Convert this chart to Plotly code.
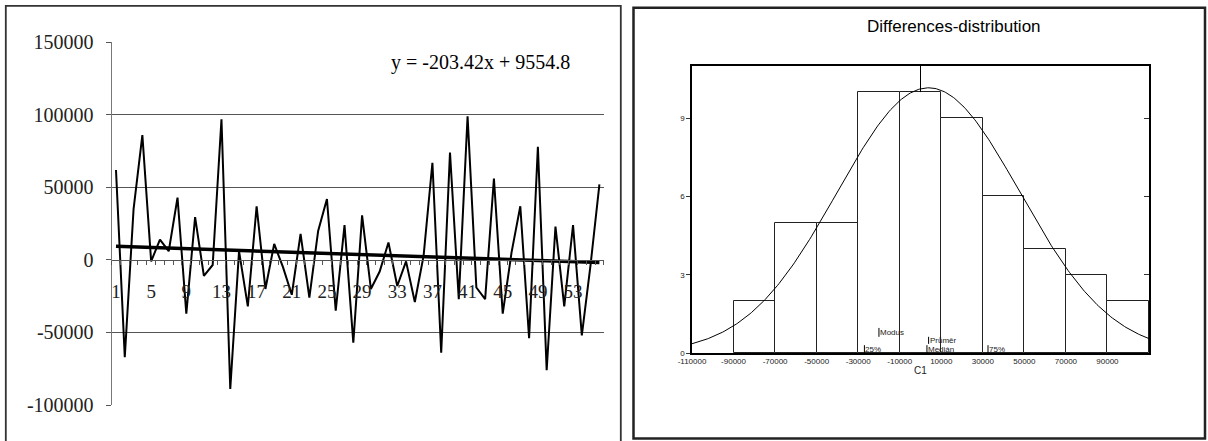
import numpy as np
import plotly.graph_objects as go

# ---------------- data ----------------
obs_index = list(range(1, 57))
differences = [62000, -67000, 35000, 86000, -1000, 14000, 6000, 43000, -37000, 29500,
               -11000, -3500, 97000, -89000, 6000, -32000, 37000, -20000, 11000, -5000,
               -24000, 18000, -26000, 20000, 42000, -35000, 24000, -57000, 30700, -20000,
               -8000, 12000, -18000, -1000, -29000, 3000, 67000, -64000, 74000, -27000,
               99000, -19000, -27000, 56000, -37000, 5000, 37000, -54000, 78000, -76000,
               23000, -32000, 24000, -52000, -3000, 52000]

trend_slope = -203.42
trend_intercept = 9554.8
equation_text = "y = -203.42x + 9554.8"

left_x_ticks = [1, 5, 9, 13, 17, 21, 25, 29, 33, 37, 41, 45, 49, 53]
left_y_ticks = [-100000, -50000, 0, 50000, 100000, 150000]
left_y_labels = ["-100000", "-50000", "0", "50000", "100000", "150000"]
left_y_dark_grid = [-50000, 50000, 100000]
left_y_faint_grid = [-100000, 150000]

hist_bin_start = -110000
hist_bin_end = 110000
hist_bin_size = 20000
hist_x_ticks = [-110000, -90000, -70000, -50000, -30000, -10000, 10000, 30000, 50000, 70000, 90000]
hist_x_labels = ["-110000", "-90000", "-70000", "-50000", "-30000", "-10000",
                 "10000", "30000", "50000", "70000", "90000"]
hist_y_ticks = [0, 3, 6, 9]
hist_title = "Differences-distribution"
hist_x_title = "C1"

ref_line_x = 0
stat_labels = ["Modus", "25%", "Průměr", "Medián", "75%"]
stat_x = [-20000, -27000, 3900, 3100, 32500]
stat_y_low = [0.62, 0.0, 0.35, 0.0, 0.0]
stat_y_high = [0.96, 0.3, 0.62, 0.3, 0.3]

# ---------------- layout helpers ----------------
W, H = 1208, 441
def px(x):
    return x / W
def py(y):
    return 1 - y / H

lx_dom = [px(111.6), px(603.8)]
ly_dom = [py(405.0), py(42.3)]
ly_range = [-100000, 150000]
zero_pos = ly_dom[0] + (0 - ly_range[0]) / (ly_range[1] - ly_range[0]) * (ly_dom[1] - ly_dom[0])

rx_dom = [px(692), px(1149)]
ry_dom = [py(353), py(66)]

serif = "Liberation Serif, Times New Roman, serif"
sans = "Liberation Sans, Arial, sans-serif"

fig = go.Figure()

# ---------------- left chart ----------------
fig.add_trace(go.Scatter(x=obs_index, y=differences, mode="lines",
                         line=dict(color="black", width=2), xaxis="x", yaxis="y",
                         hoverinfo="skip"))
trend_x = [obs_index[0], obs_index[-1]]
trend_y = [trend_slope * v + trend_intercept for v in trend_x]
fig.add_trace(go.Scatter(x=trend_x, y=trend_y, mode="lines",
                         line=dict(color="black", width=3.5), xaxis="x", yaxis="y",
                         hoverinfo="skip"))
# empty trace so the overlaying faint-grid axis is drawn
fig.add_trace(go.Scatter(x=[None], y=[None], xaxis="x", yaxis="y3", hoverinfo="skip"))

# ---------------- right chart ----------------
fig.add_trace(go.Histogram(x=differences,
                           xbins=dict(start=hist_bin_start, end=hist_bin_end, size=hist_bin_size),
                           marker=dict(color="white", line=dict(color="#222", width=1)),
                           xaxis="x2", yaxis="y2", hoverinfo="skip"))

arr = np.array(differences, dtype=float)
fit_mean = arr.mean()
fit_sd = arr.std(ddof=1)
cx = np.linspace(hist_bin_start, hist_bin_end, 300)
cy = len(arr) * hist_bin_size / (fit_sd * np.sqrt(2 * np.pi)) * np.exp(-0.5 * ((cx - fit_mean) / fit_sd) ** 2)
fig.add_trace(go.Scatter(x=cx, y=cy, mode="lines", line=dict(color="black", width=1),
                         xaxis="x2", yaxis="y2", hoverinfo="skip"))

fig.add_trace(go.Scatter(x=[ref_line_x, ref_line_x], y=[10, 11], mode="lines",
                         line=dict(color="black", width=1), xaxis="x2", yaxis="y2",
                         hoverinfo="skip", cliponaxis=False))

sx, sy = [], []
for xv, lo, hi in zip(stat_x, stat_y_low, stat_y_high):
    sx += [xv, xv, None]
    sy += [lo, hi, None]
fig.add_trace(go.Scatter(x=sx, y=sy, mode="lines", line=dict(color="black", width=1),
                         xaxis="x2", yaxis="y2", hoverinfo="skip"))
# empty trace so the right-side (mirrored, inside) tick axis is drawn
fig.add_trace(go.Scatter(x=[None], y=[None], xaxis="x2", yaxis="y4", hoverinfo="skip"))

annotations = []
for lab, xv, lo, hi in zip(stat_labels, stat_x, stat_y_low, stat_y_high):
    annotations.append(dict(x=xv, y=(lo + hi) / 2, xref="x2", yref="y2", text=lab,
                            showarrow=False, xanchor="left", yanchor="middle", xshift=-1,
                            font=dict(family=sans, size=8, color="#222")))

annotations.append(dict(x=px(953.5), y=py(26), xref="paper", yref="paper", text=hist_title,
                        showarrow=False, xanchor="center", yanchor="middle",
                        font=dict(family=sans, size=17, color="black")))
annotations.append(dict(x=px(480.5), y=py(62), xref="paper", yref="paper", text=equation_text,
                        showarrow=False, xanchor="center", yanchor="middle",
                        font=dict(family=serif, size=20, color="black")))

shapes = [
    dict(type="rect", xref="paper", yref="paper", x0=px(5.8), x1=px(620.8), y0=-0.05, y1=py(5.8),
         line=dict(color="#333", width=1.8), fillcolor="rgba(0,0,0,0)", layer="above"),
    dict(type="rect", xref="paper", yref="paper", x0=px(633.5), x1=px(1205), y0=py(438.5), y1=py(7.7),
         line=dict(color="#222", width=2.5), fillcolor="rgba(0,0,0,0)", layer="above"),
]

half_ticks = [i + 0.5 for i in range(0, 57)]

fig.update_layout(
    width=W, height=H, margin=dict(l=0, r=0, t=0, b=0, autoexpand=False),
    paper_bgcolor="white", plot_bgcolor="white", showlegend=False,
    bargap=0,
    xaxis=dict(domain=lx_dom, range=[0.5, 56.5], anchor="free", position=zero_pos,
               tickmode="array", tickvals=left_x_ticks, ticks="", showline=True,
               linecolor="#555", linewidth=1,
               showgrid=False, zeroline=False, ticklabelstandoff=14, automargin=False,
               minor=dict(tickmode="array", tickvals=half_ticks, ticks="outside", ticklen=4,
                          tickcolor="#555", showgrid=False),
               tickfont=dict(family=serif, size=19, color="#222")),
    yaxis=dict(domain=ly_dom, range=ly_range, anchor="x", tickmode="array",
               tickvals=left_y_ticks, ticktext=left_y_labels, ticks="outside", ticklen=5,
               tickcolor="#555", showline=True, linecolor="#777", linewidth=1, showgrid=False,
               zeroline=False, ticklabelstandoff=8, automargin=False,
               minor=dict(tickmode="array", tickvals=left_y_dark_grid, ticks="",
                          showgrid=True, gridcolor="#555", gridwidth=1),
               tickfont=dict(family=serif, size=20, color="#222")),
    yaxis3=dict(overlaying="y", range=ly_range, anchor="x", tickmode="array",
                tickvals=left_y_faint_grid, ticks="", showticklabels=False, automargin=False,
                showline=False, showgrid=True, gridcolor="#eeeeee", gridwidth=1, zeroline=False),
    xaxis2=dict(domain=rx_dom, range=[hist_bin_start, hist_bin_end], anchor="y2",
                tickmode="array", tickvals=hist_x_ticks, ticktext=hist_x_labels, ticks="",
                showline=True, mirror=True, linecolor="black", linewidth=1.5,
                showgrid=False, zeroline=False, automargin=False,
                tickfont=dict(family=sans, size=8, color="#222"),
                title=dict(text=hist_x_title, standoff=2, font=dict(family=sans, size=10, color="#222"))),
    yaxis2=dict(domain=ry_dom, range=[0, 11], anchor="x2", tickmode="array",
                tickvals=hist_y_ticks, ticks="outside", ticklen=4, tickcolor="#333",
                showline=True, mirror=True, linecolor="black", linewidth=1.5,
                showgrid=False, zeroline=False, ticklabelstandoff=0, automargin=False,
                tickfont=dict(family=sans, size=8, color="#222")),
    yaxis4=dict(overlaying="y2", side="right", range=[0, 11], anchor="x2", tickmode="array",
                tickvals=hist_y_ticks, ticks="inside", ticklen=5, tickcolor="#333",
                showticklabels=False, showline=False, showgrid=False, zeroline=False,
                automargin=False),
    annotations=annotations,
    shapes=shapes,
)

# remove the browser's default 8px page margin so the figure starts at the window corner
fig.write_html("out.html", config={"displayModeBar": False},
               post_script="document.body.style.margin='0px';")
